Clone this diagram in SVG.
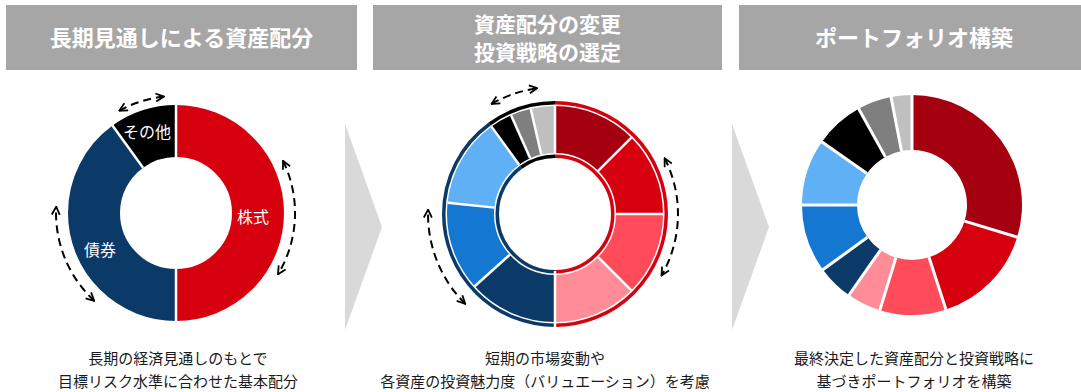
<svg xmlns="http://www.w3.org/2000/svg" width="1081" height="392" viewBox="0 0 1081 392">
<defs>
<marker id="ah" viewBox="0 0 10 10" refX="9" refY="5" markerWidth="10" markerHeight="10" markerUnits="userSpaceOnUse" orient="auto-start-reverse"><path d="M1,1 L9,5 L1,9" fill="none" stroke="#000" stroke-width="1.8"/></marker>
</defs>
<style>
.hdr{fill:#a6a6a6}
.ht{font-family:"Noto Sans CJK JP",sans-serif;font-weight:bold;font-size:22px;fill:#fff;text-anchor:middle}
.ht2{font-family:"Noto Sans CJK JP",sans-serif;font-weight:bold;font-size:21px;fill:#fff;text-anchor:middle}
.cap{font-family:"Noto Sans CJK JP",sans-serif;font-size:15px;fill:#1a1a1a;text-anchor:middle}
.lbl{font-family:"Noto Sans CJK JP",sans-serif;font-size:16px;fill:#fff;text-anchor:middle}
circle{fill:none}
.sep{stroke:#fff;stroke-width:2.5}
.sep3{stroke:#fff;stroke-width:3}
.dash{fill:none;stroke:#000;stroke-width:2;stroke-dasharray:8 5;marker-start:url(#ah);marker-end:url(#ah)}
.chev{fill:#d9d9d9}
</style>
<rect width="1081" height="392" fill="#fff"/>

<g id="header1"><rect class="hdr" x="6" y="5" width="351" height="65"/><text class="ht" x="181.5" y="46">長期見通しによる資産配分</text></g>
<g id="header2"><rect class="hdr" x="373" y="5" width="349" height="65"/><text class="ht2"><tspan x="547.5" y="31.5">資産配分の変更</tspan><tspan x="547.5" y="60">投資戦略の選定</tspan></text></g>
<g id="header3"><rect class="hdr" x="739" y="5" width="342" height="65"/><text class="ht" x="914" y="46">ポートフォリオ構築</text></g>

<g id="chevrons"><polygon class="chev" points="345,124 382,227 345,330"/><polygon class="chev" points="732,124 769,227 732,330"/></g>

<g id="donut1" transform="rotate(-90 176 213)">
<circle cx="176" cy="213" r="82" stroke-width="52" pathLength="360" stroke="#d7000f" stroke-dasharray="180 360" stroke-dashoffset="0"/>
<circle cx="176" cy="213" r="82" stroke-width="52" pathLength="360" stroke="#0b3a69" stroke-dasharray="144 360" stroke-dashoffset="-180"/>
<circle cx="176" cy="213" r="82" stroke-width="52" pathLength="360" stroke="#000" stroke-dasharray="36 360" stroke-dashoffset="-324"/>
</g>
<g id="donut1-sep">
<line class="sep" x1="176" y1="157" x2="176" y2="104"/>
<line class="sep" x1="176" y1="157" x2="176" y2="104" transform="rotate(180 176 213)"/>
<line class="sep" x1="176" y1="157" x2="176" y2="104" transform="rotate(324 176 213)"/>
</g>
<g id="donut1-labels">
<text class="lbl" x="253" y="222.5">株式</text>
<text class="lbl" x="100" y="255.5">債券</text>
<text class="lbl" x="147" y="137.5">その他</text>
</g>

<g id="donut2" transform="rotate(-90 555 214)">
<circle cx="555" cy="214" r="84.5" stroke-width="47" pathLength="360" stroke="#a50010" stroke-dasharray="45 360" stroke-dashoffset="0"/>
<circle cx="555" cy="214" r="84.5" stroke-width="47" pathLength="360" stroke="#d7000f" stroke-dasharray="45 360" stroke-dashoffset="-45"/>
<circle cx="555" cy="214" r="84.5" stroke-width="47" pathLength="360" stroke="#ff4b5a" stroke-dasharray="45 360" stroke-dashoffset="-90"/>
<circle cx="555" cy="214" r="84.5" stroke-width="47" pathLength="360" stroke="#ff8c96" stroke-dasharray="45 360" stroke-dashoffset="-135"/>
<circle cx="555" cy="214" r="84.5" stroke-width="47" pathLength="360" stroke="#0b3a69" stroke-dasharray="48 360" stroke-dashoffset="-180"/>
<circle cx="555" cy="214" r="84.5" stroke-width="47" pathLength="360" stroke="#1478d2" stroke-dasharray="48 360" stroke-dashoffset="-228"/>
<circle cx="555" cy="214" r="84.5" stroke-width="47" pathLength="360" stroke="#5fb0f5" stroke-dasharray="48 360" stroke-dashoffset="-276"/>
<circle cx="555" cy="214" r="84.5" stroke-width="47" pathLength="360" stroke="#000" stroke-dasharray="12 360" stroke-dashoffset="-324"/>
<circle cx="555" cy="214" r="84.5" stroke-width="47" pathLength="360" stroke="#7f7f7f" stroke-dasharray="11 360" stroke-dashoffset="-336"/>
<circle cx="555" cy="214" r="84.5" stroke-width="47" pathLength="360" stroke="#bfbfbf" stroke-dasharray="13 360" stroke-dashoffset="-347"/>
<circle cx="555" cy="214" r="111.25" stroke-width="3.5" pathLength="360" stroke="#d7000f" stroke-dasharray="180 360" stroke-dashoffset="0"/>
<circle cx="555" cy="214" r="111.25" stroke-width="3.5" pathLength="360" stroke="#0b3a69" stroke-dasharray="144 360" stroke-dashoffset="-180"/>
<circle cx="555" cy="214" r="111.25" stroke-width="3.5" pathLength="360" stroke="#000" stroke-dasharray="36 360" stroke-dashoffset="-324"/>
<circle cx="555" cy="214" r="57.75" stroke-width="3.5" pathLength="360" stroke="#d7000f" stroke-dasharray="180 360" stroke-dashoffset="0"/>
<circle cx="555" cy="214" r="57.75" stroke-width="3.5" pathLength="360" stroke="#0b3a69" stroke-dasharray="144 360" stroke-dashoffset="-180"/>
<circle cx="555" cy="214" r="57.75" stroke-width="3.5" pathLength="360" stroke="#000" stroke-dasharray="36 360" stroke-dashoffset="-324"/>
</g>
<g id="donut2-sep">
<line class="sep" x1="555" y1="153" x2="555" y2="106"/>
<line class="sep" x1="555" y1="153" x2="555" y2="106" transform="rotate(45 555 214)"/>
<line class="sep" x1="555" y1="153" x2="555" y2="106" transform="rotate(90 555 214)"/>
<line class="sep" x1="555" y1="153" x2="555" y2="106" transform="rotate(135 555 214)"/>
<line class="sep" x1="555" y1="157" x2="555" y2="101" transform="rotate(180 555 214)"/>
<line class="sep" x1="555" y1="153" x2="555" y2="106" transform="rotate(228 555 214)"/>
<line class="sep" x1="555" y1="153" x2="555" y2="106" transform="rotate(276 555 214)"/>
<line class="sep" x1="555" y1="153" x2="555" y2="106" transform="rotate(324 555 214)"/>
<line class="sep" x1="555" y1="153" x2="555" y2="106" transform="rotate(336 555 214)"/>
<line class="sep" x1="555" y1="153" x2="555" y2="106" transform="rotate(347 555 214)"/>
</g>

<g id="donut3">
<path fill="#a50010" d="M912,95 A110,110 0 0 1 1017.19,237.16 L964.60,221.08 A55,55 0 0 0 912,150 Z"/>
<path fill="#d7000f" d="M1017.19,237.16 A110,110 0 0 1 945.99,309.62 L929.00,257.31 A55,55 0 0 0 964.60,221.08 Z"/>
<path fill="#ff4b5a" d="M945.99,309.62 A110,110 0 0 1 879.84,310.19 L895.92,257.60 A55,55 0 0 0 929.00,257.31 Z"/>
<path fill="#ff8c96" d="M879.84,310.19 A110,110 0 0 1 848.90,295.11 L880.45,250.06 A55,55 0 0 0 895.92,257.60 Z"/>
<path fill="#0b3a69" d="M848.90,295.11 A110,110 0 0 1 823.01,269.66 L867.50,237.33 A55,55 0 0 0 880.45,250.06 Z"/>
<path fill="#1478d2" d="M823.01,269.66 A110,110 0 0 1 802,205 L857,205 A55,55 0 0 0 867.50,237.33 Z"/>
<path fill="#5fb0f5" d="M802,205 A110,110 0 0 1 821.89,141.90 L866.94,173.45 A55,55 0 0 0 857,205 Z"/>
<path fill="#000" d="M821.89,141.90 A110,110 0 0 1 858.67,108.79 L885.34,156.90 A55,55 0 0 0 866.94,173.45 Z"/>
<path fill="#7f7f7f" d="M858.67,108.79 A110,110 0 0 1 891.01,97.02 L901.51,151.01 A55,55 0 0 0 885.34,156.90 Z"/>
<path fill="#bfbfbf" d="M891.01,97.02 A110,110 0 0 1 912,95 L912,150 A55,55 0 0 0 901.51,151.01 Z"/>
</g>
<g id="donut3-sep">
<line class="sep3" x1="912" y1="150" x2="912" y2="93"/>
<line class="sep3" x1="912" y1="150" x2="912" y2="93" transform="rotate(107 912 205)"/>
<line class="sep3" x1="912" y1="150" x2="912" y2="93" transform="rotate(162 912 205)"/>
<line class="sep3" x1="912" y1="150" x2="912" y2="93" transform="rotate(197 912 205)"/>
<line class="sep3" x1="912" y1="150" x2="912" y2="93" transform="rotate(215 912 205)"/>
<line class="sep3" x1="912" y1="150" x2="912" y2="93" transform="rotate(234 912 205)"/>
<line class="sep3" x1="912" y1="150" x2="912" y2="93" transform="rotate(270 912 205)"/>
<line class="sep3" x1="912" y1="150" x2="912" y2="93" transform="rotate(305 912 205)"/>
<line class="sep3" x1="912" y1="150" x2="912" y2="93" transform="rotate(331 912 205)"/>
<line class="sep3" x1="912" y1="150" x2="912" y2="93" transform="rotate(349 912 205)"/>
</g>

<g id="connectors">
<path class="dash" d="M119.3,110.7 A117,117 0 0 1 163.8,96.6"/>
<path class="dash" d="M283,160.8 A119,119 0 0 1 278,274.3"/>
<path class="dash" d="M94.2,300.8 A120,120 0 0 1 56.2,206.7"/>
<path class="dash" d="M491.5,104 A127,127 0 0 1 537.3,88.2"/>
<path class="dash" d="M664.6,158.2 A123,123 0 0 1 661.5,275.5"/>
<path class="dash" d="M465.2,303.8 A127,127 0 0 1 428.1,209.6"/>
</g>

<g id="captions">
<text class="cap" x="178" y="363.5">長期の経済見通しのもとで</text>
<text class="cap" x="178" y="386.5">目標リスク水準に合わせた基本配分</text>
<text class="cap" x="545" y="363.5">短期の市場変動や</text>
<text class="cap" x="545" y="386.5">各資産の投資魅力度（バリュエーション）を考慮</text>
<text class="cap" x="914" y="363.5">最終決定した資産配分と投資戦略に</text>
<text class="cap" x="914" y="386.5">基づきポートフォリオを構築</text>
</g>
</svg>
